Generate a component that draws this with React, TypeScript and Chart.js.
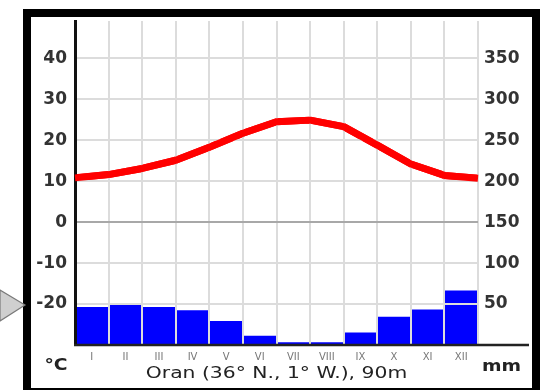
import React, { useEffect, useRef } from "react";
import { Chart, registerables } from "chart.js";

Chart.register(...registerables);

const months = ["I", "II", "III", "IV", "V", "VI", "VII", "VIII", "IX", "X", "XI", "XII"];
const precipitation = [46, 49, 46, 42, 29, 11, 3, 3, 15, 34, 43, 66];
// temperature read at each month boundary (13 points, left edge to right edge)
const temperature = [10.8, 11.6, 13.1, 15.1, 18.3, 21.7, 24.5, 24.9, 23.3, 18.8, 14.2, 11.4, 10.7];
const tempTicks = [-30, -20, -10, 0, 10, 20, 30, 40];
const precipTicks = [0, 50, 100, 150, 200, 250, 300, 350];
const titleText = "Oran (36° N., 1° W.), 90m";
const tempUnit = "°C";
const precipUnit = "mm";

function stretchText(ctx: CanvasRenderingContext2D, text: string, cx: number, cy: number, sx: number) {
  ctx.save();
  ctx.translate(cx, cy);
  ctx.scale(sx, 1);
  ctx.textAlign = "center";
  ctx.textBaseline = "middle";
  ctx.fillText(text, 0, 0);
  ctx.restore();
}

const overlay = {
  id: "overlay",
  beforeDraw(chart: any) {
    const ctx = chart.ctx as CanvasRenderingContext2D;
    // decorative arrow at the left
    ctx.save();
    ctx.beginPath();
    ctx.moveTo(0, 290);
    ctx.lineTo(25, 305);
    ctx.lineTo(0, 321);
    ctx.closePath();
    ctx.fillStyle = "#cfcfcf";
    ctx.fill();
    ctx.strokeStyle = "#7a7a7a";
    ctx.lineWidth = 1.2;
    ctx.stroke();
    ctx.restore();
  },
  afterDraw(chart: any) {
    const ctx = chart.ctx as CanvasRenderingContext2D;
    const a = chart.chartArea;
    // redraw temperature line above the grid
    const meta = chart.getDatasetMeta(1);
    ctx.save();
    meta.controller.draw();
    ctx.restore();
    // extended x-axis line
    ctx.save();
    ctx.strokeStyle = "#222";
    ctx.lineWidth = 2.5;
    ctx.beginPath();
    ctx.moveTo(a.left - 1, a.bottom);
    ctx.lineTo(529, a.bottom);
    ctx.stroke();
    ctx.restore();
    // texts
    ctx.save();
    ctx.fillStyle = "#222";
    ctx.font = '16px "DejaVu Sans"';
    stretchText(ctx, titleText, (a.left + a.right) / 2, 374, 1.27);
    ctx.font = 'bold 15px "DejaVu Sans"';
    stretchText(ctx, tempUnit, 56, 366, 1.25);
    stretchText(ctx, precipUnit, 501.5, 367, 1.25);
    ctx.restore();
  },
};

export default function App() {
  const ref = useRef<HTMLCanvasElement>(null);
  useEffect(() => {
    const chart = new Chart(ref.current as HTMLCanvasElement, {
      type: "bar",
      data: {
        labels: months,
        datasets: [
          {
            type: "bar",
            data: precipitation,
            backgroundColor: "#0000ff",
            borderWidth: 0,
            yAxisID: "y2",
            xAxisID: "x",
            barPercentage: 1,
            categoryPercentage: 1,
            grouped: false,
            order: 2,
          } as any,
          {
            type: "line",
            data: temperature.map((t, i) => ({ x: i, y: t })),
            borderColor: "#ff0000",
            borderWidth: 7,
            pointRadius: 0,
            tension: 0,
            yAxisID: "y",
            xAxisID: "xl",
            order: 1,
            borderJoinStyle: "round",
            fill: false,
          } as any,
        ],
      },
      options: {
        responsive: false,
        animation: false,
        layout: { padding: { top: 21, left: 0, right: 0, bottom: 0 } },
        plugins: { legend: { display: false }, tooltip: { enabled: false }, title: { display: false } },
        scales: {
          x: {
            type: "category",
            position: "bottom",
            offset: true,
            grid: { offset: true, color: "#dcdcdc", lineWidth: 2, drawTicks: false, z: 1 } as any,
            border: { display: false },
            ticks: {
              color: "#777",
              font: { family: "DejaVu Sans", size: 10 },
              padding: 6,
              maxRotation: 0,
              autoSkip: false,
            },
            afterFit: (s: any) => {
              s.height = 45;
            },
          },
          xl: {
            type: "linear",
            min: 0,
            max: 12,
            display: false,
            offset: false,
            grid: { offset: false },
          },
          y: {
            type: "linear",
            position: "left",
            min: -30,
            max: 49.1,
            afterBuildTicks: (s: any) => {
              s.ticks = tempTicks.map((v) => ({ value: v }));
            },
            ticks: {
              callback: (v: any) => (v === -30 ? "" : String(v)),
              color: "#333",
              font: { family: "DejaVu Sans", size: 17, weight: "bold" },
              padding: 8,
            },
            grid: {
              color: (c: any) =>
                c.tick && c.tick.value === 0 ? "#a8a8a8" : c.tick && c.tick.value === -30 ? "rgba(0,0,0,0)" : "#dcdcdc",
              lineWidth: 2,
              drawTicks: false,
              z: 1,
            } as any,
            border: { display: true, color: "#111", width: 3, z: 2 } as any,
            afterFit: (s: any) => {
              s.width = 75;
            },
          },
          y2: {
            type: "linear",
            position: "right",
            min: 0,
            max: 395.5,
            afterBuildTicks: (s: any) => {
              s.ticks = precipTicks.map((v) => ({ value: v }));
            },
            ticks: {
              callback: (v: any) => (v === 0 ? "" : String(v)),
              color: "#333",
              font: { family: "DejaVu Sans", size: 17, weight: "bold" },
              padding: 6,
            },
            grid: { display: false, drawTicks: false },
            border: { display: false },
            afterFit: (s: any) => {
              s.width = 64;
            },
          },
        },
      } as any,
      plugins: [overlay],
    });
    return () => chart.destroy();
  }, []);

  return (
    <div
      style={{
        position: "fixed",
        left: 0,
        top: 0,
        width: 542,
        height: 390,
        background: "#fff",
        overflow: "hidden",
      }}
    >
      <div
        style={{
          position: "absolute",
          left: 23,
          top: 9,
          width: 517,
          height: 387,
          border: "8px solid #000",
          boxSizing: "border-box",
        }}
      />
      <canvas
        ref={ref}
        width={542}
        height={390}
        style={{ position: "absolute", left: 0, top: 0, width: 542, height: 390 }}
      />
    </div>
  );
}
